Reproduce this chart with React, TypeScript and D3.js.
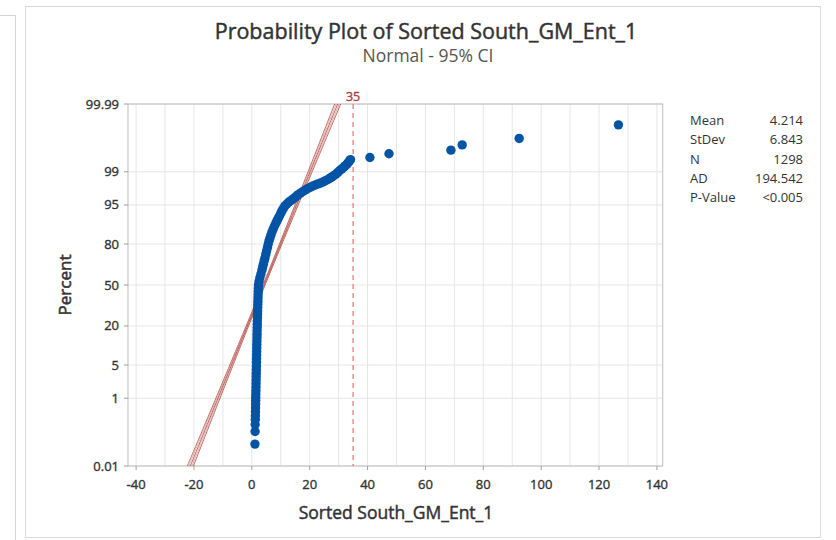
import React from 'react';
import * as d3 from 'd3';

// ---------- data ----------
const xTickValues = [-40, -20, 0, 20, 40, 60, 80, 100, 120, 140];
const yTickPercents = [0.01, 1, 5, 20, 50, 80, 95, 99, 99.99];
const yTickLabels = ['0.01', '1', '5', '20', '50', '80', '95', '99', '99.99'];

// plotted points: percent (plotting position) and sorted value
const pointPercents = [
  0.054, 0.131, 0.208, 0.285, 0.362, 0.46, 0.58, 0.72, 0.88, 1.05, 1.25, 1.5, 1.8, 2.15, 2.55,
  3.0, 3.5, 4.1, 4.8, 5.6, 6.5, 7.5, 8.6, 9.8, 11.1, 12.5, 14, 15.6, 17.3, 19.1, 21, 23, 25.1,
  27.3, 29.6, 32, 34.5, 37, 39.6, 42.2, 44.8, 47.4,
  50, 53, 56.1, 59, 62.1, 64.5, 66.7, 69, 71, 73.5, 75.8, 78, 80, 81.8, 83.3, 84.8, 86.2, 87.5,
  88.7, 89.7, 90.6, 91.4, 92.2, 92.9, 93.6, 94.2, 94.8, 95.2, 95.6, 95.9, 96.2, 96.5, 96.8,
  97.05, 97.26, 97.45, 97.63, 97.77, 97.9, 98.0, 98.1, 98.19, 98.28, 98.39, 98.49, 98.59,
  98.68, 98.78, 98.87, 98.97, 99.07, 99.15, 99.23, 99.29, 99.35, 99.41, 99.46, 99.5,
  99.56, 99.65, 99.72, 99.8, 99.87, 99.95,
];
const pointValues = [
  1.07, 1.12, 1.15, 1.2, 1.22, 1.25, 1.28, 1.3, 1.33, 1.35, 1.38, 1.4, 1.43, 1.45, 1.48,
  1.5, 1.52, 1.55, 1.58, 1.6, 1.62, 1.65, 1.68, 1.7, 1.72, 1.75, 1.78, 1.8, 1.82, 1.85, 1.88, 1.9, 1.93,
  1.96, 2.0, 2.03, 2.06, 2.1, 2.13, 2.16, 2.2, 2.24,
  2.28, 2.5, 2.8, 3.15, 3.49, 3.75, 4.0, 4.27, 4.53, 4.82, 5.1, 5.4, 5.67, 5.95, 6.26, 6.6, 6.95, 7.38,
  7.81, 8.25, 8.67, 9.1, 9.54, 9.97, 10.4, 10.9, 11.44, 12.1, 12.8, 13.6, 14.4, 15.15, 15.9,
  16.8, 17.66, 18.5, 19.4, 20.25, 21.1, 21.95, 22.8, 23.7, 24.6, 25.45, 26.3, 27.0,
  27.7, 28.4, 29.1, 29.75, 30.4, 31.1, 31.8, 32.35, 32.9, 33.35, 33.75, 34.1,
  40.8, 47.4, 68.8, 72.7, 92.4, 126.7,
];

const statLabels = ['Mean', 'StDev', 'N', 'AD', 'P-Value'];
const statValues = ['4.214', '6.843', '1298', '194.542', '<0.005'];
const fitMean = 4.214;
const fitStDev = 6.843;
const fitN = 1298;
const referenceX = 35;

// ---------- helpers ----------
function qnorm(p: number): number {
  const a = [-3.969683028665376e1, 2.209460984245205e2, -2.759285104469687e2, 1.38357751867269e2, -3.066479806614716e1, 2.506628277459239];
  const b = [-5.447609879822406e1, 1.615858368580409e2, -1.556989798598866e2, 6.680131188771972e1, -1.328068155288572e1];
  const c = [-7.784894002430293e-3, -3.223964580411365e-1, -2.400758277161838, -2.549732539343734, 4.374664141464968, 2.938163982698783];
  const d = [7.784695709041462e-3, 3.224671290700398e-1, 2.445134137142996, 3.754408661907416];
  const pl = 0.02425;
  if (p < pl) {
    const q = Math.sqrt(-2 * Math.log(p));
    return (((((c[0] * q + c[1]) * q + c[2]) * q + c[3]) * q + c[4]) * q + c[5]) / ((((d[0] * q + d[1]) * q + d[2]) * q + d[3]) * q + 1);
  }
  if (p > 1 - pl) {
    const q = Math.sqrt(-2 * Math.log(1 - p));
    return -(((((c[0] * q + c[1]) * q + c[2]) * q + c[3]) * q + c[4]) * q + c[5]) / ((((d[0] * q + d[1]) * q + d[2]) * q + d[3]) * q + 1);
  }
  const q = p - 0.5;
  const r = q * q;
  return (((((a[0] * r + a[1]) * r + a[2]) * r + a[3]) * r + a[4]) * r + a[5]) * q / (((((b[0] * r + b[1]) * r + b[2]) * r + b[3]) * r + b[4]) * r + 1);
}

const W = 836;
const H = 540;
const left = 128;
const right = 662.7;
const top = 104;
const bottom = 466;

const zMax = qnorm(0.9999);
const x = d3.scaleLinear().domain([-42.8, 142]).range([left, right]);
const yz = d3.scaleLinear().domain([-zMax, zMax]).range([bottom, top]);
const y = (pct: number) => yz(qnorm(pct / 100));

const FONT = "'Open Sans', 'Noto Sans', sans-serif";
const BLUE = '#0454a6';
const RED = '#b2463f';
const INK = '#333333';

export default function App() {
  const xGrid = d3.range(-40, 141, 10);
  const zs = d3.range(-zMax - 0.05, zMax + 0.06, 0.05);
  const band = (f: number) =>
    d3.line<number>()
      .x((z) => x(fitMean + z * fitStDev + f * 1.96 * fitStDev * Math.sqrt(1 / fitN + (z * z) / (2 * fitN))))
      .y((z) => yz(z));

  return (
    <svg width={W} height={H} style={{ position: 'absolute', left: 0, top: 0, background: '#fff' }} fontFamily={FONT}>
      <defs>
        <clipPath id="plotclip">
          <rect x={left} y={top} width={right - left} height={bottom - top} />
        </clipPath>
      </defs>
      {/* surrounding frames */}
      <path d="M0,15.5 H15.5 V540" fill="none" stroke="#d4d4d4" />
      <rect x={25.5} y={6.5} width={795} height={531} fill="#fff" stroke="#d9d9d9" />

      {/* titles */}
      <text x={426} y={39} textAnchor="middle" fontSize={21.5} fill={INK} stroke={INK} strokeWidth={0.45}>Probability Plot of Sorted South_GM_Ent_1</text>
      <text x={428} y={62} textAnchor="middle" fontSize={17.5} fill="#555">Normal - 95% CI</text>

      {/* grid */}
      <g stroke="#e6e6e6" strokeWidth={1}>
        {xGrid.map((v) => (
          <line key={'gx' + v} x1={x(v)} x2={x(v)} y1={top} y2={bottom} />
        ))}
        {yTickPercents.map((p) => (
          <line key={'gy' + p} x1={left} x2={right} y1={y(p)} y2={y(p)} />
        ))}
      </g>

      {/* frame */}
      <rect x={left} y={top} width={right - left} height={bottom - top} fill="none" stroke="#bdbdbd" />

      {/* ticks */}
      <g stroke="#9e9e9e">
        {xTickValues.map((v) => (
          <line key={'tx' + v} x1={x(v)} x2={x(v)} y1={bottom} y2={bottom + 4} />
        ))}
        {yTickPercents.map((p) => (
          <line key={'ty' + p} x1={left - 4} x2={left} y1={y(p)} y2={y(p)} />
        ))}
      </g>
      <g fontSize={13} fill={INK} stroke={INK} strokeWidth={0.35}>
        {xTickValues.map((v) => (
          <text key={'lx' + v} x={x(v)} y={489} textAnchor="middle">{v}</text>
        ))}
        {yTickPercents.map((p, i) => (
          <text key={'ly' + p} x={119} y={y(p) + 4.5} textAnchor="end">{yTickLabels[i]}</text>
        ))}
      </g>

      {/* axis titles */}
      <text x={396} y={519} textAnchor="middle" fontSize={17.5} fill={INK} stroke={INK} strokeWidth={0.45}>Sorted South_GM_Ent_1</text>
      <text transform={`translate(71,${yz(0)}) rotate(-90)`} textAnchor="middle" fontSize={17} fill={INK} stroke={INK} strokeWidth={0.55}>Percent</text>

      {/* fitted line and CI */}
      <g clipPath="url(#plotclip)" fill="none">
        <path d={band(-1)(zs) || ''} stroke={RED} strokeWidth={1} opacity={0.8} />
        <path d={band(-0.5)(zs) || ''} stroke={RED} strokeWidth={0.8} opacity={0.5} />
        <path d={band(0)(zs) || ''} stroke={RED} strokeWidth={1} opacity={0.85} />
        <path d={band(0.5)(zs) || ''} stroke={RED} strokeWidth={0.8} opacity={0.5} />
        <path d={band(1)(zs) || ''} stroke={RED} strokeWidth={1} opacity={0.8} />
      </g>

      {/* reference line */}
      <line x1={x(referenceX)} x2={x(referenceX)} y1={top} y2={bottom} stroke="#e57373" strokeWidth={1.2} strokeDasharray="5,4" />
      <text x={x(referenceX)} y={101} textAnchor="middle" fontSize={12.5} fill="#b03a3a" stroke="#b03a3a" strokeWidth={0.35}>{referenceX}</text>

      {/* points */}
      <g fill={BLUE}>
        {pointValues.map((v, i) => (
          <circle key={'p' + i} cx={x(v)} cy={y(pointPercents[i])} r={4.7} />
        ))}
      </g>

      {/* stats */}
      <g fontSize={13} fill="#333">
        {statLabels.map((s, i) => (
          <text key={'sl' + s} x={690} y={125 + i * 19.3}>{s}</text>
        ))}
        {statValues.map((s, i) => (
          <text key={'sv' + i} x={803} y={125 + i * 19.3} textAnchor="end">{s}</text>
        ))}
      </g>
    </svg>
  );
}
